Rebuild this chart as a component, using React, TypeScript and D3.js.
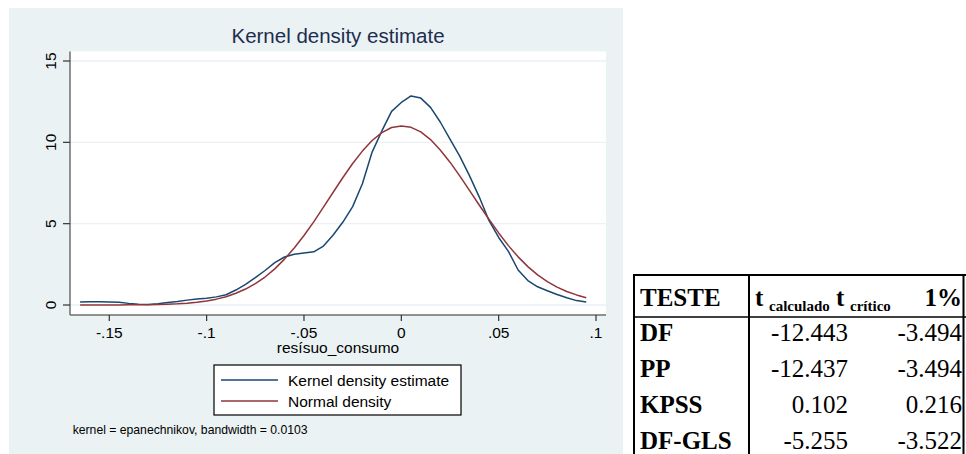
import React from "react";
import * as d3 from "d3";

// Evaluation grid for the residuals (step 0.005)
const gridStart = -0.165;
const gridStep = 0.005;

// Kernel density estimate of resísuo_consumo
const kernelDensity = [
  0.18, 0.2, 0.2, 0.19, 0.17, 0.1, 0.05, 0.03, 0.08, 0.16, 0.22, 0.3, 0.37,
  0.41, 0.5, 0.63, 0.92, 1.27, 1.68, 2.12, 2.6, 2.95, 3.12, 3.2, 3.27, 3.62,
  4.3, 5.1, 6.05, 7.45, 9.4, 10.7, 11.9, 12.45, 12.85, 12.72, 12.15, 11.25,
  10.2, 9.15, 7.95, 6.65, 5.2, 4.15, 3.3, 2.15, 1.5, 1.12, 0.88, 0.65, 0.45,
  0.27, 0.19,
];

// Normal density with the same mean and standard deviation
const normalDensity = [
  0.0, 0.0, 0.0, 0.0, 0.0, 0.01, 0.01, 0.02, 0.03, 0.05, 0.07, 0.11, 0.17,
  0.25, 0.36, 0.51, 0.72, 0.98, 1.31, 1.72, 2.22, 2.82, 3.5, 4.27, 5.11, 6.02,
  6.93, 7.84, 8.7, 9.46, 10.11, 10.6, 10.91, 11.0, 10.92, 10.64, 10.17, 9.53,
  8.78, 7.94, 7.05, 6.15, 5.27, 4.43, 3.65, 2.96, 2.36, 1.85, 1.44, 1.1, 0.83,
  0.62, 0.45,
];

const xTicks = [-0.15, -0.1, -0.05, 0, 0.05, 0.1];
const xTickLabels = ["-.15", "-.1", "-.05", "0", ".05", ".1"];
const yTicks = [0, 5, 10, 15];

const legendLabels = ["Kernel density estimate", "Normal density"];
const seriesColors = ["#1a476f", "#90353b"];

// Unit-root test table
const testNames = ["DF", "PP", "KPSS", "DF-GLS"];
const tCalculado = ["-12.443", "-12.437", "0.102", "-5.255"];
const tCritico = ["-3.494", "-3.494", "0.216", "-3.522"];

const sans = "'Liberation Sans', Arial, sans-serif";
const serif = "'Liberation Serif', 'Times New Roman', serif";

export default function App() {
  const plot = { left: 70, right: 606, top: 51.5, bottom: 315 };
  const x = d3.scaleLinear().domain([-0.15, 0.1]).range([109.3, 596]);
  const y = d3.scaleLinear().domain([0, 15]).range([305, 61]);

  const toPoints = (vals: number[]) =>
    vals.map((v, i) => [gridStart + i * gridStep, v] as [number, number]);

  const line = d3
    .line<[number, number]>()
    .x((d) => x(d[0]))
    .y((d) => y(d[1]));

  const series = [kernelDensity, normalDensity];

  const rowBase = [341, 377, 413, 449];

  return (
    <svg
      width={966}
      height={454}
      style={{ position: "absolute", left: 0, top: 0 }}
    >
      <rect x={0} y={0} width={966} height={454} fill="#ffffff" />
      {/* graph region */}
      <rect x={9} y={8} width={614} height={450} fill="#eaf2f3" />
      {/* plot region */}
      <rect
        x={plot.left}
        y={plot.top}
        width={plot.right - plot.left}
        height={plot.bottom - plot.top}
        fill="#ffffff"
      />
      {yTicks.map((t) => (
        <line
          key={"g" + t}
          x1={plot.left}
          x2={plot.right}
          y1={y(t)}
          y2={y(t)}
          stroke="#eaf2f3"
          strokeWidth={1.3}
        />
      ))}

      {/* curves */}
      {series.map((s, i) => (
        <path
          key={"s" + i}
          d={line(toPoints(s)) || ""}
          fill="none"
          stroke={seriesColors[i]}
          strokeWidth={1.5}
          strokeLinejoin="round"
        />
      ))}

      {/* axes */}
      <line
        x1={plot.left}
        x2={plot.left}
        y1={plot.top}
        y2={plot.bottom}
        stroke="#6e6e6e"
        strokeWidth={1.5}
      />
      <line
        x1={plot.left}
        x2={plot.right}
        y1={plot.bottom}
        y2={plot.bottom}
        stroke="#6e6e6e"
        strokeWidth={1.5}
      />
      {yTicks.map((t) => (
        <g key={"yt" + t}>
          <line
            x1={63}
            x2={plot.left}
            y1={y(t)}
            y2={y(t)}
            stroke="#333"
            strokeWidth={1.2}
          />
          <text
            transform={`translate(55.5,${y(t)}) rotate(-90)`}
            textAnchor="middle"
            fontFamily={sans}
            fontSize={15.5}
            fill="#000"
          >
            {t}
          </text>
        </g>
      ))}
      {xTicks.map((t, i) => (
        <g key={"xt" + t}>
          <line
            x1={x(t)}
            x2={x(t)}
            y1={plot.bottom}
            y2={321}
            stroke="#333"
            strokeWidth={1.2}
          />
          <text
            x={x(t)}
            y={337.5}
            textAnchor="middle"
            fontFamily={sans}
            fontSize={15.5}
            fill="#000"
          >
            {xTickLabels[i]}
          </text>
        </g>
      ))}
      <text
        x={(plot.left + plot.right) / 2}
        y={353}
        textAnchor="middle"
        fontFamily={sans}
        fontSize={15.5}
        fill="#000"
      >
        resísuo_consumo
      </text>

      {/* title */}
      <text
        x={(plot.left + plot.right) / 2}
        y={43}
        textAnchor="middle"
        fontFamily={sans}
        fontSize={20.5}
        fill="#1e2d4f"
      >
        Kernel density estimate
      </text>

      {/* legend */}
      <rect
        x={214}
        y={365}
        width={247}
        height={50}
        fill="#ffffff"
        stroke="#000"
        strokeWidth={1.2}
      />
      {legendLabels.map((lab, i) => (
        <g key={"lg" + i}>
          <line
            x1={221}
            x2={278}
            y1={380 + i * 21}
            y2={380 + i * 21}
            stroke={seriesColors[i]}
            strokeWidth={1.5}
          />
          <text
            x={288}
            y={385.5 + i * 21}
            fontFamily={sans}
            fontSize={15.5}
            fill="#000"
          >
            {lab}
          </text>
        </g>
      ))}

      {/* note */}
      <text x={72.7} y={433.5} fontFamily={sans} fontSize={12.2} fill="#000">
        kernel = epanechnikov, bandwidth = 0.0103
      </text>

      {/* test table */}
      <g fontFamily={serif} fill="#000">
        <line x1={633} x2={966} y1={275} y2={275} stroke="#000" strokeWidth={2} />
        <line x1={634} x2={634} y1={274} y2={454} stroke="#000" strokeWidth={2} />
        <line x1={749} x2={749} y1={274} y2={454} stroke="#000" strokeWidth={2} />
        <line x1={963.5} x2={963.5} y1={274} y2={454} stroke="#000" strokeWidth={2} />
        <line x1={633} x2={966} y1={317} y2={317} stroke="#000" strokeWidth={1.5} />

        <text x={640} y={306} fontSize={25} fontWeight="bold">
          TESTE
        </text>
        <text x={755} y={306} fontSize={25} fontWeight="bold">
          t
        </text>
        <text x={769} y={311} fontSize={15} fontWeight="bold">
          calculado
        </text>
        <text x={836} y={306} fontSize={25} fontWeight="bold">
          t
        </text>
        <text x={850} y={311} fontSize={15} fontWeight="bold">
          crítico
        </text>
        <text x={962} y={306} fontSize={25} fontWeight="bold" textAnchor="end">
          1%
        </text>

        {testNames.map((name, i) => (
          <g key={"row" + i}>
            <text x={640} y={rowBase[i]} fontSize={25} fontWeight="bold">
              {name}
            </text>
            <text x={848} y={rowBase[i]} fontSize={25} textAnchor="end">
              {tCalculado[i]}
            </text>
            <text x={962} y={rowBase[i]} fontSize={25} textAnchor="end">
              {tCritico[i]}
            </text>
          </g>
        ))}
      </g>
    </svg>
  );
}
